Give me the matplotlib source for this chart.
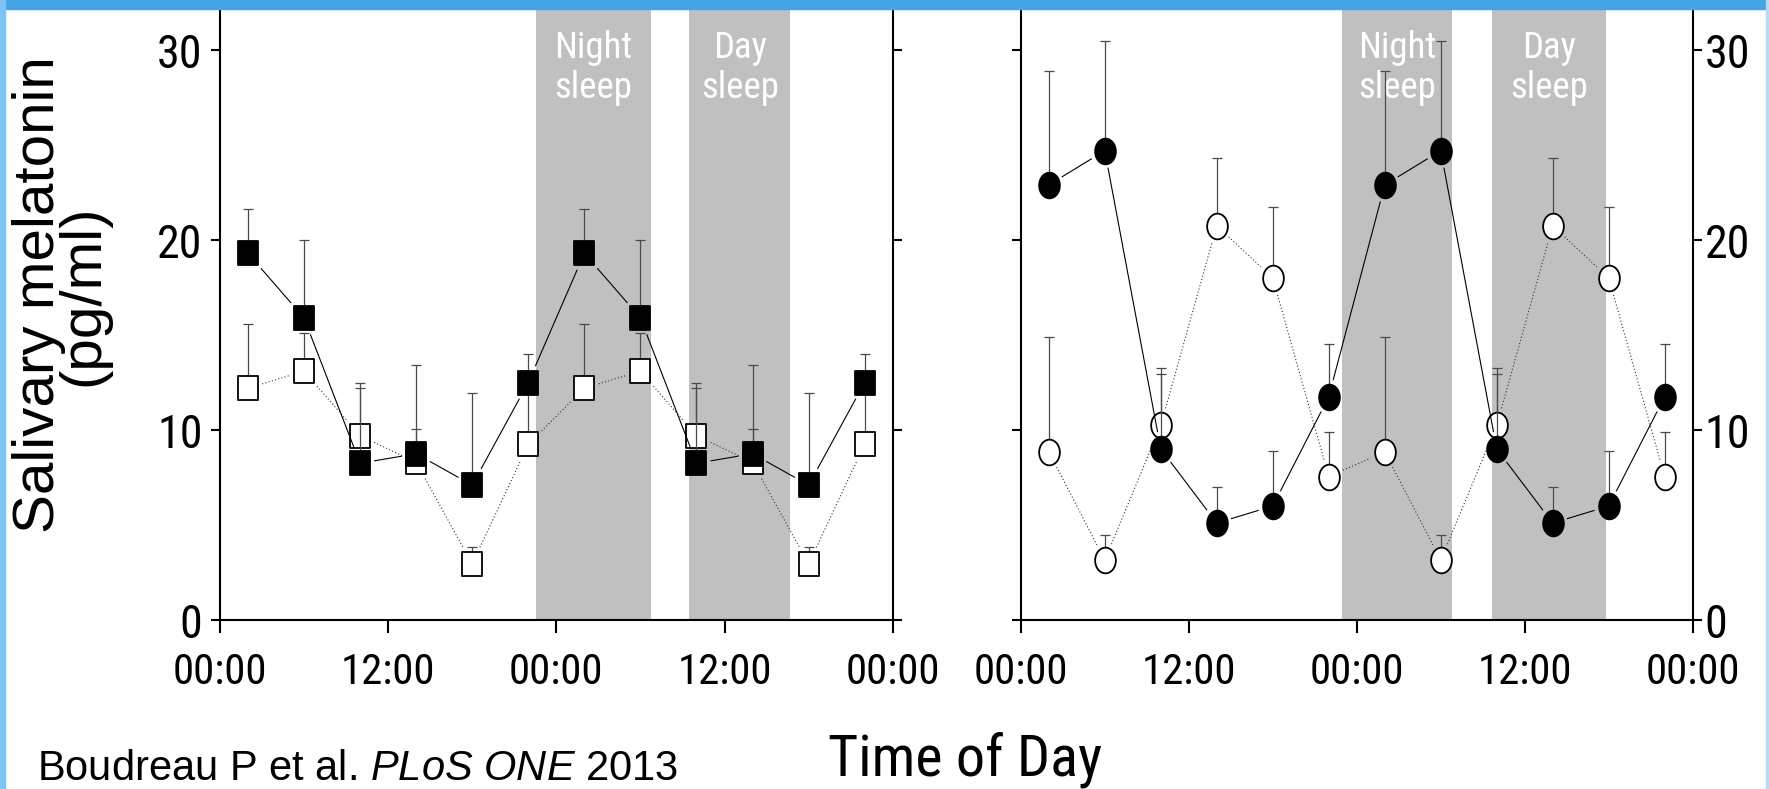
import numpy as np
import matplotlib
matplotlib.use("Agg")
import matplotlib.pyplot as plt
from matplotlib.path import Path
from matplotlib.transforms import Affine2D
from matplotlib.patches import Rectangle
from matplotlib.textpath import TextPath
from matplotlib.font_manager import FontProperties
from matplotlib import font_manager

# ---------------- data ----------------
hours = [2, 6, 10, 14, 18, 22, 26, 30, 34, 38, 42, 46]

# left panel (squares)
left_filled = [19.3, 15.9, 8.25, 8.75, 7.1, 12.5, 19.3, 15.9, 8.25, 8.75, 7.1, 12.5]
left_filled_sem = [2.35, 4.1, 3.95, 4.65, 4.85, 1.5, 2.35, 4.1, 3.95, 4.65, 4.85, 1.5]
left_open = [12.2, 13.1, 9.7, 8.3, 2.95, 9.25, 12.2, 13.1, 9.7, 8.3, 2.95, 9.25]
left_open_sem = [3.4, 2.0, 2.8, 1.75, 0.9, 2.75, 3.4, 2.0, 2.8, 1.75, 0.9, 2.75]

# right panel (circles)
right_filled = [22.9, 24.7, 9.0, 5.1, 6.0, 11.75, 22.9, 24.7, 9.0, 5.1, 6.0, 11.75]
right_filled_sem = [6.0, 5.75, 3.95, 1.9, 2.9, 2.8, 6.0, 5.75, 3.95, 1.9, 2.9, 2.8]
right_open = [8.85, 3.15, 10.25, 20.75, 18.0, 7.55, 8.85, 3.15, 10.25, 20.75, 18.0, 7.55]
right_open_sem = [6.05, 1.3, 3.0, 3.55, 3.75, 2.35, 6.05, 1.3, 3.0, 3.55, 3.75, 2.35]

# sleep episodes (hours from start)
left_night = (22.55, 30.75)
left_day = (33.5, 40.7)
right_night = (22.95, 30.8)
right_day = (33.65, 41.8)

tick_hours = [0, 12, 24, 36, 48]
tick_labels = ["00:00", "12:00", "00:00", "12:00", "00:00"]
y_ticks = [0, 10, 20, 30]

# ---------------- fonts ----------------
names = {f.name for f in font_manager.fontManager.ttflist}
NARROW = "Liberation Sans"
for cand in ["Liberation Sans Narrow", "Arial Narrow", "Nimbus Sans Narrow",
             "Roboto Condensed", "Archivo Narrow", "PT Sans Narrow",
             "IBM Plex Sans Condensed"]:
    if cand in names:
        NARROW = cand
        break
REG = "Liberation Sans"
plt.rcParams["mathtext.fontset"] = "custom"
plt.rcParams["mathtext.rm"] = REG
plt.rcParams["mathtext.it"] = REG + ":italic"

# ---------------- markers ----------------
SQ_ASPECT = 1.23
ELL_ASPECT = 1.24
sq_marker = Path([(-1, -SQ_ASPECT), (1, -SQ_ASPECT), (1, SQ_ASPECT), (-1, SQ_ASPECT),
                  (-1, -SQ_ASPECT)],
                 [Path.MOVETO, Path.LINETO, Path.LINETO, Path.LINETO, Path.CLOSEPOLY])
ell_marker = Path.unit_circle().transformed(Affine2D().scale(1, ELL_ASPECT))

W, H = 1769, 789
fig = plt.figure(figsize=(W / 100, H / 100), dpi=100)
fig.patch.set_facecolor("white")
renderer = fig.canvas.get_renderer()


def fit_size(s, hs, family, w_px, h_px, ref=20.0):
    """font size compromising between a target width of s and glyph height of hs"""
    t = fig.text(0, 0, s, fontsize=ref, family=family)
    w = t.get_window_extent(renderer=renderer).width
    t.remove()
    gh = TextPath((0, 0), hs, size=ref,
                  prop=FontProperties(family=family)).get_extents().height * 100 / 72
    sw = ref * w_px / w
    sh = ref * h_px / gh
    return (sw * sh) ** 0.5


XT = fit_size("00:00", "0", NARROW, 94, 31.7)
YT = fit_size("30", "0", NARROW, 45, 34)
BAND = fit_size("Night", "N", NARROW, 73, 28)
XLAB = fit_size("Time of Day", "T", NARROW, 270, 42)

y_top = 620 / 19.0
axL = fig.add_axes([219.9 / W, 169 / H, 672.8 / W, 620 / H])
axR = fig.add_axes([1020.8 / W, 169 / H, 671.9 / W, 620 / H])


def gapped_line(ax, x, y, ms, aspect, shape, gap, **kw):
    """connect points with segments that stop short of the markers"""
    pts = ax.transData.transform(np.column_stack([x, y]))
    b = ms * 100 / 72 / 2 + 1.0
    a = b / aspect
    inv = ax.transData.inverted()
    for i in range(len(pts) - 1):
        p0, p1 = pts[i], pts[i + 1]
        d = p1 - p0
        L = np.hypot(*d)
        u = d / L
        if shape == "ellipse":
            r = 1.0 / np.sqrt((u[0] / a) ** 2 + (u[1] / b) ** 2)
        else:
            r = min(a / max(abs(u[0]), 1e-9), b / max(abs(u[1]), 1e-9))
        r += gap
        if L <= 2 * r:
            continue
        q = inv.transform(np.array([p0 + u * r, p1 - u * r]))
        ax.plot(q[:, 0], q[:, 1], **kw)


def draw_series(ax, x, y, sem, marker, shape, aspect, ms, face, ls, lc, z):
    lower = [0] * len(y)
    ax.errorbar(x, y, yerr=[lower, sem], fmt="none", ecolor="#4a4a4a",
                elinewidth=0.9, capsize=3.6, capthick=0.9, zorder=z)
    gapped_line(ax, x, y, ms, aspect, shape, 4.0, linestyle=ls, color=lc,
                lw=0.8, zorder=z + 0.1)
    ax.plot(x, y, linestyle="none", marker=marker, ms=ms, mfc=face,
            mec="black", mew=1.3, zorder=z + 0.2)


def setup(ax, night, day, label_side):
    ax.set_xlim(0, 48)
    ax.set_ylim(0, y_top)
    for span in (night, day):
        ax.axvspan(span[0], span[1], color="#c0c0c0", lw=0, zorder=0)
    for span, word in ((night, "Night"), (day, "Day")):
        cx = (span[0] + span[1]) / 2
        ax.text(cx, (620 - 57.5) / 19, word, ha="center", va="baseline",
                color="white", fontsize=BAND, family=NARROW, zorder=1)
        ax.text(cx, (620 - 98.5) / 19, "sleep", ha="center", va="baseline",
                color="white", fontsize=BAND, family=NARROW, zorder=1)
    ax.spines["top"].set_visible(False)
    for s in ("left", "right", "bottom"):
        ax.spines[s].set_linewidth(1.5)
    ax.set_xticks(tick_hours)
    ax.set_xticklabels(tick_labels, fontsize=XT, family=NARROW)
    ax.set_yticks(y_ticks)
    ax.tick_params(axis="x", direction="out", length=9.4, width=1.5, pad=14)
    ax.tick_params(axis="y", direction="out", length=6.5, width=1.5,
                   left=True, right=True,
                   labelleft=(label_side == "left"),
                   labelright=(label_side == "right"),
                   labelsize=YT)
    for lab in ax.get_yticklabels():
        lab.set_family(NARROW)
    if label_side == "left":
        ax.tick_params(axis="y", pad=6)
    else:
        ax.tick_params(axis="y", pad=2)


setup(axL, left_night, left_day, "left")
setup(axR, right_night, right_day, "right")

draw_series(axL, hours, left_open, left_open_sem, sq_marker, "rect", SQ_ASPECT,
            17, "white", (0, (1, 2)), "#333333", 3)
draw_series(axL, hours, left_filled, left_filled_sem, sq_marker, "rect", SQ_ASPECT,
            17.5, "black", "-", "black", 4)
draw_series(axR, hours, right_open, right_open_sem, ell_marker, "ellipse", ELL_ASPECT,
            18.5, "white", (0, (1, 2)), "#333333", 3)
draw_series(axR, hours, right_filled, right_filled_sem, ell_marker, "ellipse", ELL_ASPECT,
            18.5, "black", "-", "black", 4)

# y label (one two-line text, tight line spacing)
fig.text(61 / W, 1 - 295 / H, "Salivary melatonin\n(pg/ml)", rotation=90,
         ha="center", va="center", fontsize=42, family=REG, linespacing=0.78,
         multialignment="center")

fig.text(965 / W, 1 - 775 / H, "Time of Day", ha="center", va="baseline",
         fontsize=XLAB, family=NARROW)
fig.text(37 / W, 1 - 780 / H, r"Boudreau P et al. $\mathit{PLoS\ ONE}$ 2013",
         ha="left", va="baseline", fontsize=30, family=REG)

# slide frame strips
fig.patches.append(Rectangle((0, 1 - 9 / H), 1, 9 / H, transform=fig.transFigure,
                             color="#44a4e4", zorder=10))
fig.patches.append(Rectangle((0, 0), 5 / W, 1, transform=fig.transFigure,
                             color="#7cc4f4", zorder=10))
fig.patches.append(Rectangle((1 - 3 / W, 0), 3 / W, 1, transform=fig.transFigure,
                             color="#b4dcf6", zorder=10))

fig.savefig("out.png", dpi=100)
